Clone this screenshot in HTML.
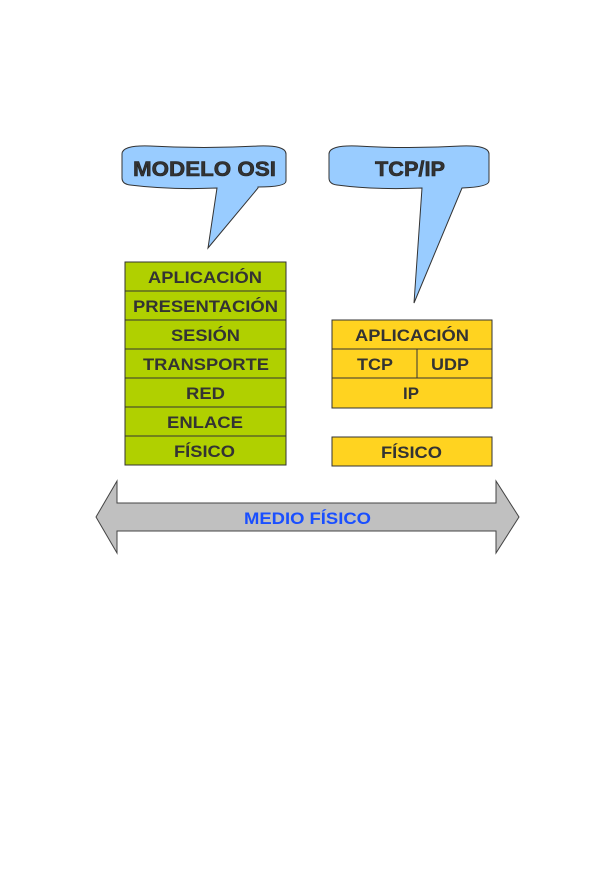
<!DOCTYPE html>
<html><head><meta charset="utf-8"><style>body{margin:0;background:#fff}</style></head><body>
<svg width="612" height="865" viewBox="0 0 612 865" xmlns="http://www.w3.org/2000/svg" font-family="Liberation Sans, sans-serif" font-weight="bold">
<g fill="#99ccff" stroke="#333" stroke-width="1">
<path d="M122,154 Q122,145 150,146 Q204,149 258,146 Q286,145 286,154 L286,181 Q286,187 258,187 L258,188 L208,248 L217,188 Q170,190 130,185 Q122,184 122,178 Z"/>
<path d="M329,154 Q329,145 357,146 Q409,149 461,146 Q489,145 489,154 L489,181 Q489,187 462,188 L414,303 L422,188 Q375,190 337,185 Q329,184 329,178 Z"/>
</g>
<g font-size="21" fill="#333" stroke="#222" stroke-width="0.6" lengthAdjust="spacingAndGlyphs">
<text x="133" y="176" textLength="143" lengthAdjust="spacingAndGlyphs">MODELO OSI</text>
<text x="375" y="176" textLength="70" lengthAdjust="spacingAndGlyphs">TCP/IP</text>
</g>
<g fill="#b0d000" stroke="#333">
<rect x="125" y="262" width="161" height="29"/><rect x="125" y="291" width="161" height="29"/>
<rect x="125" y="320" width="161" height="29"/><rect x="125" y="349" width="161" height="29"/>
<rect x="125" y="378" width="161" height="29"/><rect x="125" y="407" width="161" height="29"/>
<rect x="125" y="436" width="161" height="29"/>
</g>
<g fill="#ffd320" stroke="#333">
<rect x="332" y="320" width="160" height="29"/><rect x="332" y="349" width="85" height="29"/>
<rect x="417" y="349" width="75" height="29"/><rect x="332" y="378" width="160" height="30"/>
<rect x="332" y="437" width="160" height="29"/>
</g>
<g font-size="17" fill="#333">
<text x="148" y="283" textLength="114" lengthAdjust="spacingAndGlyphs">APLICACIÓN</text>
<text x="133" y="312" textLength="145" lengthAdjust="spacingAndGlyphs">PRESENTACIÓN</text>
<text x="171" y="341" textLength="69" lengthAdjust="spacingAndGlyphs">SESIÓN</text>
<text x="143" y="370" textLength="126" lengthAdjust="spacingAndGlyphs">TRANSPORTE</text>
<text x="186" y="399" textLength="39" lengthAdjust="spacingAndGlyphs">RED</text>
<text x="167" y="428" textLength="76" lengthAdjust="spacingAndGlyphs">ENLACE</text>
<text x="174" y="457" textLength="61" lengthAdjust="spacingAndGlyphs">FÍSICO</text>
<text x="355" y="341" textLength="114" lengthAdjust="spacingAndGlyphs">APLICACIÓN</text>
<text x="357" y="370" textLength="36" lengthAdjust="spacingAndGlyphs">TCP</text>
<text x="431" y="370" textLength="38" lengthAdjust="spacingAndGlyphs">UDP</text>
<text x="403" y="399" textLength="16" lengthAdjust="spacingAndGlyphs">IP</text>
<text x="381" y="458" textLength="61" lengthAdjust="spacingAndGlyphs">FÍSICO</text>
</g>
<path d="M96,517 L117,481 L117,503 L496,503 L496,481 L519,517 L496,553 L496,531 L117,531 L117,553 Z" fill="#c0c0c0" stroke="#444"/>
<text x="244" y="524" font-size="17" fill="#1a4fff" textLength="127" lengthAdjust="spacingAndGlyphs">MEDIO FÍSICO</text>
</svg>
</body></html>
